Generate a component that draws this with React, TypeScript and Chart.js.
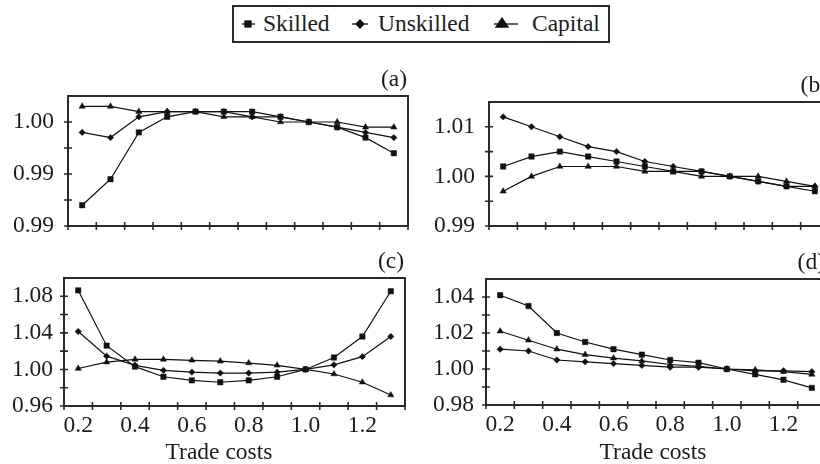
import React, { useEffect, useRef } from "react";
import { Chart, registerables } from "chart.js";
Chart.register(...registerables);

// ---------------- data ----------------
const categories = ["0.2", "0.3", "0.4", "0.5", "0.6", "0.7", "0.8", "0.9", "1.0", "1.1", "1.2", "1.3"];
const xTickLabels = ["0.2", "", "0.4", "", "0.6", "", "0.8", "", "1.0", "", "1.2", ""];
const seriesNames = ["Skilled", "Unskilled", "Capital"];
const xTitle = "Trade costs";

// panel (a)
const skilledA = [0.992, 0.9945, 0.999, 1.0005, 1.001, 1.001, 1.001, 1.0005, 1.0, 0.9995, 0.9985, 0.997];
const unskilledA = [0.999, 0.9985, 1.0005, 1.001, 1.001, 1.001, 1.0005, 1.0005, 1.0, 0.9995, 0.999, 0.9985];
const capitalA = [1.0015, 1.0015, 1.001, 1.001, 1.001, 1.0005, 1.0005, 1.0, 1.0, 1.0, 0.9995, 0.9995];
const yTicksA = [0.99, 0.995, 1.0];
const yLabelsA = ["0.99", "0.99", "1.00"];
const yMinorA = [0.9925, 0.9975];

// panel (b)
const skilledB = [1.002, 1.004, 1.005, 1.004, 1.003, 1.002, 1.001, 1.001, 1.0, 0.999, 0.998, 0.997];
const unskilledB = [1.012, 1.01, 1.008, 1.006, 1.005, 1.003, 1.002, 1.001, 1.0, 0.999, 0.998, 0.998];
const capitalB = [0.997, 1.0, 1.002, 1.002, 1.002, 1.001, 1.001, 1.0, 1.0, 1.0, 0.999, 0.998];
const yTicksB = [0.99, 1.0, 1.01];
const yLabelsB = ["0.99", "1.00", "1.01"];
const yMinorB = [0.995, 1.005];

// panel (c)
const skilledC = [1.0865, 1.026, 1.003, 0.992, 0.988, 0.986, 0.988, 0.992, 1.0, 1.013, 1.036, 1.0855];
const unskilledC = [1.0415, 1.0145, 1.0045, 0.999, 0.997, 0.996, 0.996, 0.997, 1.0, 1.005, 1.014, 1.036];
const capitalC = [1.001, 1.008, 1.011, 1.011, 1.01, 1.009, 1.007, 1.0045, 1.0, 0.995, 0.986, 0.972];
const yTicksC = [0.96, 1.0, 1.04, 1.08];
const yLabelsC = ["0.96", "1.00", "1.04", "1.08"];
const yMinorC = [0.98, 1.02, 1.06];

// panel (d)
const skilledD = [1.041, 1.035, 1.02, 1.015, 1.011, 1.008, 1.005, 1.0035, 1.0, 0.997, 0.994, 0.9895];
const unskilledD = [1.011, 1.01, 1.005, 1.004, 1.003, 1.002, 1.001, 1.001, 1.0, 0.999, 0.999, 0.9985];
const capitalD = [1.021, 1.016, 1.011, 1.008, 1.006, 1.0045, 1.0025, 1.0015, 1.0, 0.9995, 0.9985, 0.997];
const yTicksD = [0.98, 1.0, 1.02, 1.04];
const yLabelsD = ["0.98", "1.00", "1.02", "1.04"];
const yMinorD = [0.99, 1.01, 1.03];

// ---------------- styling / layout ----------------
const FONT = "'Liberation Serif', 'Times New Roman', Times, serif";
const FONT_SIZE = 23.5;
const INK = "#1c1c1c";
const AXIS = "#2a2a2a";
const W = 820;
const H = 464;

type Box = { l: number; t: number; r: number; b: number };

interface PanelProps {
  box: Box;
  yMin: number;
  yMax: number;
  yTicks: number[];
  yLabels: string[];
  yMinor: number[];
  yPad: number;
  series: number[][];
  showX: boolean;
  label: string;
  titleX?: number;
}

const PAD_TOP = 40;
const PAD_RIGHT = 8;
const YW = 62;

const pointStyles = ["rect", "rectRot", "triangle"];
const pointRadii = [3.8, 3.2, 3.6];

function Panel(p: PanelProps) {
  const ref = useRef<HTMLCanvasElement>(null);
  const cl = p.box.l - YW;
  const ct = p.box.t - PAD_TOP;
  const cw = p.box.r - cl + PAD_RIGHT;
  const ch = p.showX ? H - ct : p.box.b - ct + 30;
  const xh = ch - PAD_TOP - (p.box.b - p.box.t);

  useEffect(() => {
    if (!ref.current) return;
    const decor = {
      id: "decor",
      afterDraw(chart: any) {
        const { ctx, chartArea: a, scales } = chart;
        const xs = scales.x;
        const ys = scales.y;
        ctx.save();
        ctx.strokeStyle = AXIS;
        ctx.lineWidth = 2;
        ctx.strokeRect(a.left, a.top, a.right - a.left, a.bottom - a.top);
        ctx.lineWidth = 1.6;
        ctx.beginPath();
        [...p.yTicks, ...p.yMinor].forEach((v) => {
          const y = ys.getPixelForValue(v);
          ctx.moveTo(a.left - 4, y);
          ctx.lineTo(a.left + 4, y);
        });
        const c0 = xs.getPixelForValue(0);
        const c1 = xs.getPixelForValue(1);
        const w = c1 - c0;
        for (let i = 0; i <= categories.length; i++) {
          const x = c0 - w / 2 + i * w;
          ctx.moveTo(x, a.bottom - 4);
          ctx.lineTo(x, a.bottom + 4);
        }
        ctx.stroke();
        ctx.fillStyle = INK;
        ctx.font = `${FONT_SIZE}px ${FONT}`;
        ctx.textAlign = "right";
        ctx.textBaseline = "alphabetic";
        ctx.fillText(p.label, a.right - 1, a.top - 10);
        if (p.showX && p.titleX !== undefined) {
          ctx.textAlign = "center";
          ctx.fillText(xTitle, p.titleX - cl, 459 - ct);
        }
        ctx.restore();
      },
    };

    const chart = new Chart(ref.current, {
      type: "line",
      data: {
        labels: categories,
        datasets: p.series.map((d, i) => ({
          label: seriesNames[i],
          data: d,
          borderColor: "#111",
          borderWidth: 1.2,
          backgroundColor: "#111",
          pointStyle: pointStyles[i] as any,
          pointRadius: pointRadii[i],
          pointBackgroundColor: "#111",
          pointBorderColor: "#111",
          pointBorderWidth: 0.5,
          tension: 0,
          fill: false,
        })),
      },
      options: {
        animation: false,
        responsive: false,
        devicePixelRatio: 1,
        layout: { padding: { top: PAD_TOP, right: PAD_RIGHT, left: 0, bottom: 0 } },
        plugins: { legend: { display: false }, tooltip: { enabled: false } },
        scales: {
          x: {
            type: "category",
            offset: true,
            grid: { display: false, drawTicks: false },
            border: { display: false },
            ticks: {
              display: p.showX,
              autoSkip: false,
              maxRotation: 0,
              minRotation: 0,
              padding: 6,
              color: INK,
              font: { family: FONT, size: FONT_SIZE },
              callback: (_v: any, i: number) => xTickLabels[i],
            },
            afterFit: (s: any) => {
              s.height = xh;
            },
          },
          y: {
            type: "linear",
            min: p.yMin,
            max: p.yMax,
            grid: { display: false, drawTicks: false },
            border: { display: false },
            afterBuildTicks: (s: any) => {
              s.ticks = p.yTicks.map((v) => ({ value: v }));
            },
            ticks: {
              padding: p.yPad,
              color: INK,
              font: { family: FONT, size: FONT_SIZE },
              callback: (_v: any, i: number) => p.yLabels[i],
            },
            afterFit: (s: any) => {
              s.width = YW;
            },
          },
        },
      } as any,
      plugins: [decor],
    });
    return () => chart.destroy();
  }, []);

  return (
    <canvas
      ref={ref}
      width={cw}
      height={ch}
      style={{ position: "absolute", left: cl, top: ct, width: cw, height: ch }}
    />
  );
}

function Legend() {
  const textStyle = (left: number): React.CSSProperties => ({
    position: "absolute",
    left,
    top: 12,
    fontFamily: FONT,
    fontSize: FONT_SIZE,
    lineHeight: `${FONT_SIZE}px`,
    color: INK,
    whiteSpace: "nowrap",
  });
  return (
    <>
      <div
        style={{
          position: "absolute",
          left: 232,
          top: 5,
          width: 378,
          height: 38,
          border: `2px solid ${AXIS}`,
          boxSizing: "border-box",
        }}
      />
      <svg width={W} height={50} style={{ position: "absolute", left: 0, top: 0 }}>
        <g stroke="#111" strokeWidth={1.3} fill="#111">
          <line x1={242} y1={24} x2={255} y2={24} />
          <rect x={245} y={21} width={6} height={6} />
          <line x1={352} y1={24} x2={368} y2={24} />
          <polygon points="360,20 364,24 360,28 356,24" />
          <line x1={494} y1={24} x2={518} y2={24} />
          <polygon points="502,18 508,27 496,27" />
        </g>
      </svg>
      <div style={textStyle(263)}>{seriesNames[0]}</div>
      <div style={textStyle(378)}>{seriesNames[1]}</div>
      <div style={textStyle(532)}>{seriesNames[2]}</div>
    </>
  );
}

export default function App() {
  return (
    <div
      style={{
        position: "fixed",
        left: 0,
        top: 0,
        width: W,
        height: H,
        overflow: "hidden",
        background: "#fff",
      }}
    >
      <Legend />
      <Panel
        box={{ l: 68, t: 96, r: 408, b: 226 }}
        yMin={0.99}
        yMax={1.0025}
        yTicks={yTicksA}
        yLabels={yLabelsA}
        yMinor={yMinorA}
        yPad={14}
        series={[skilledA, unskilledA, capitalA]}
        showX={false}
        label="(a)"
      />
      <Panel
        box={{ l: 489, t: 102, r: 829, b: 226 }}
        yMin={0.99}
        yMax={1.015}
        yTicks={yTicksB}
        yLabels={yLabelsB}
        yMinor={yMinorB}
        yPad={14}
        series={[skilledB, unskilledB, capitalB]}
        showX={false}
        label="(b)"
      />
      <Panel
        box={{ l: 64, t: 278, r: 405, b: 406 }}
        yMin={0.96}
        yMax={1.1}
        yTicks={yTicksC}
        yLabels={yLabelsC}
        yMinor={yMinorC}
        yPad={11}
        series={[skilledC, unskilledC, capitalC]}
        showX={true}
        label="(c)"
        titleX={219}
      />
      <Panel
        box={{ l: 486, t: 279, r: 826, b: 405 }}
        yMin={0.98}
        yMax={1.05}
        yTicks={yTicksD}
        yLabels={yLabelsD}
        yMinor={yMinorD}
        yPad={12}
        series={[skilledD, unskilledD, capitalD]}
        showX={true}
        label="(d)"
        titleX={653}
      />
    </div>
  );
}
